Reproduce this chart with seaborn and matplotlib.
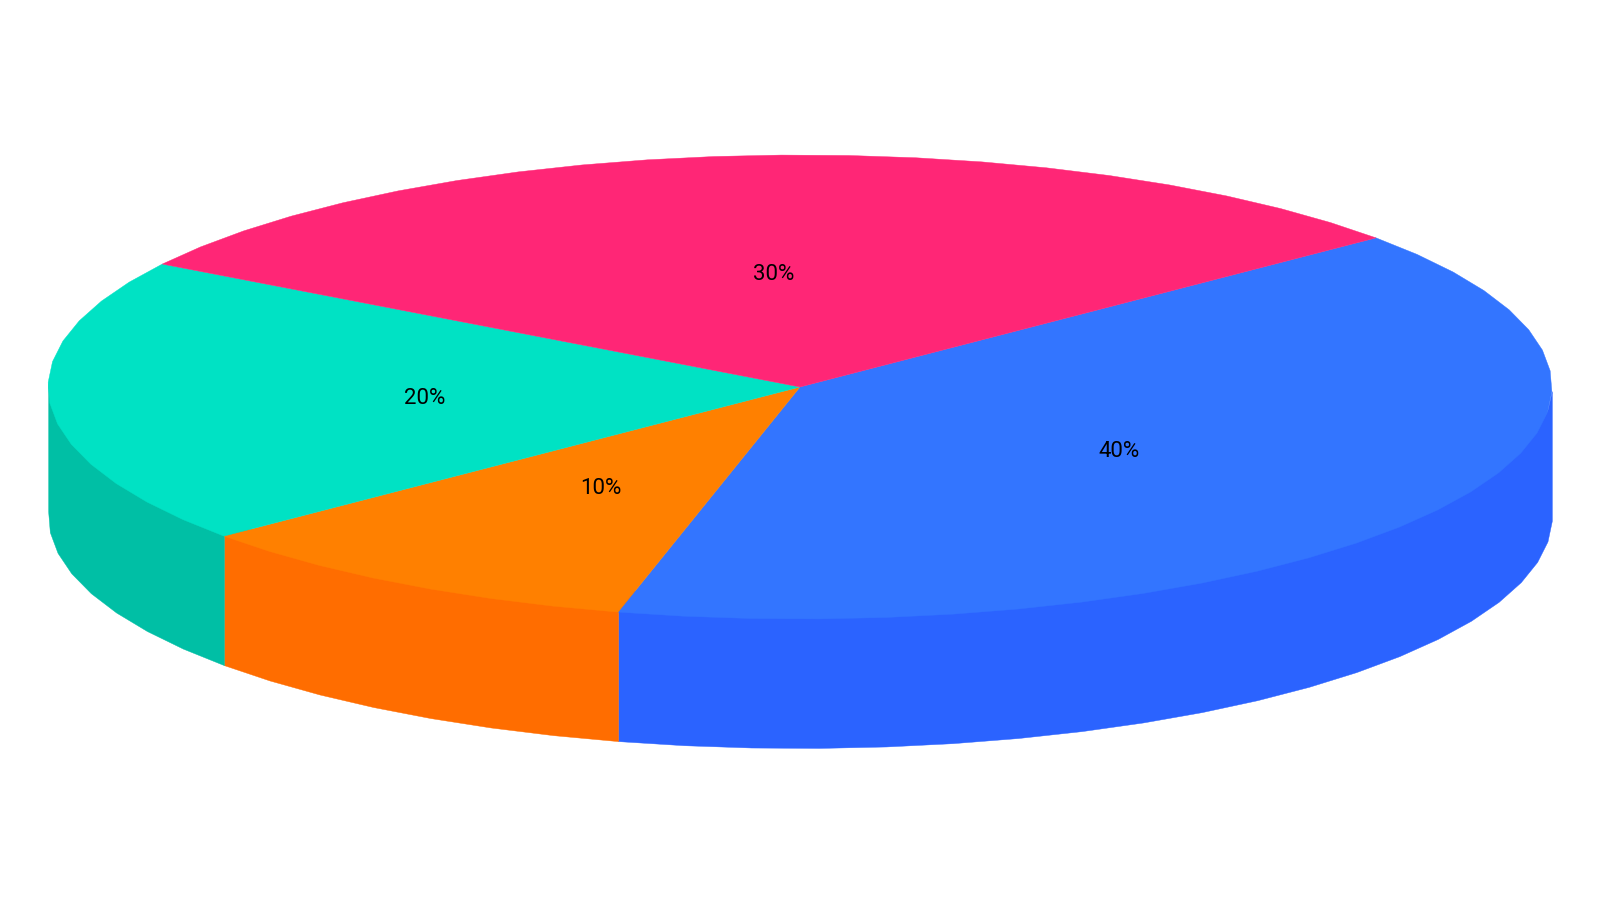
import numpy as np
import seaborn as sns
import matplotlib.pyplot as plt

# Share of each slice, clockwise from the back right
values = [40, 10, 20, 30]
top_colors = ["#3375FF", "#FF8000", "#00E2C4", "#FF2676"]
side_colors = ["#2B63FF", "#FF6D00", "#00BFA5"]

start_angle = 40
depth = 129 / 232
step = 360 / 70


def arc(lo, hi):
    # outline is made of short straight pieces, like the original
    k = np.arange(-70, 140)
    grid = start_angle + k * step
    grid = grid[(grid > lo + 0.01) & (grid < hi - 0.01)]
    ang = np.radians(np.r_[lo, grid, hi])
    return np.cos(ang), np.sin(ang)


sns.set_theme(style="white")
plt.rcParams['font.family'] = ['Roboto', 'DejaVu Sans']

fig = plt.figure(figsize=(16, 9.04), dpi=100)
ax = fig.add_axes([0, 0, 1, 1])

palette = sns.color_palette(top_colors)
wedges, texts, pcts = ax.pie(values, colors=palette, startangle=start_angle,
                             counterclock=False, autopct='%d%%', pctdistance=0.5,
                             wedgeprops={"linewidth": 0, "zorder": 3},
                             textprops={"fontsize": 16, "color": "black", "zorder": 4})

# labels sit a touch lower in the original
for t in pcts:
    tx, ty = t.get_position()
    t.set_position((tx, ty - 2 / 232))

ends = start_angle - np.cumsum(values) * 3.6 + 360
starts = np.r_[start_angle + 360, ends[:-1]]

# Side wall, only the front half of the disc can be seen
# it turns at the polygon corners nearest to the far left and far right
wall_lo = start_angle + np.floor((180 - start_angle) / step) * step
wall_hi = start_angle + np.floor((360 - start_angle) / step) * step
# wall top runs under the top face so no white seam shows
for a2, a1, col in zip(starts, ends, side_colors):
    x, y = arc(max(a1, wall_lo), min(a2, wall_hi))
    ax.fill_between(x, y * 0.9, y - depth, color=col, edgecolor=col, linewidth=0.3, zorder=2)

# Top face, polygons instead of the round pie wedges
for w, a2, a1, col in zip(wedges, starts, ends, palette):
    w.set_visible(False)
    x, y = arc(a1, a2)
    ax.fill(np.r_[0, x], np.r_[0, y], color=col, edgecolor=col, linewidth=0.3, zorder=3)

# pie() forces a round disc, squash it into the tilted ellipse
ax.set_aspect('auto')
ax.set_xlim(-800 / 752, 800 / 752)
ax.set_ylim(-516 / 232, 388 / 232)

fig.savefig('out.png', dpi=100)
